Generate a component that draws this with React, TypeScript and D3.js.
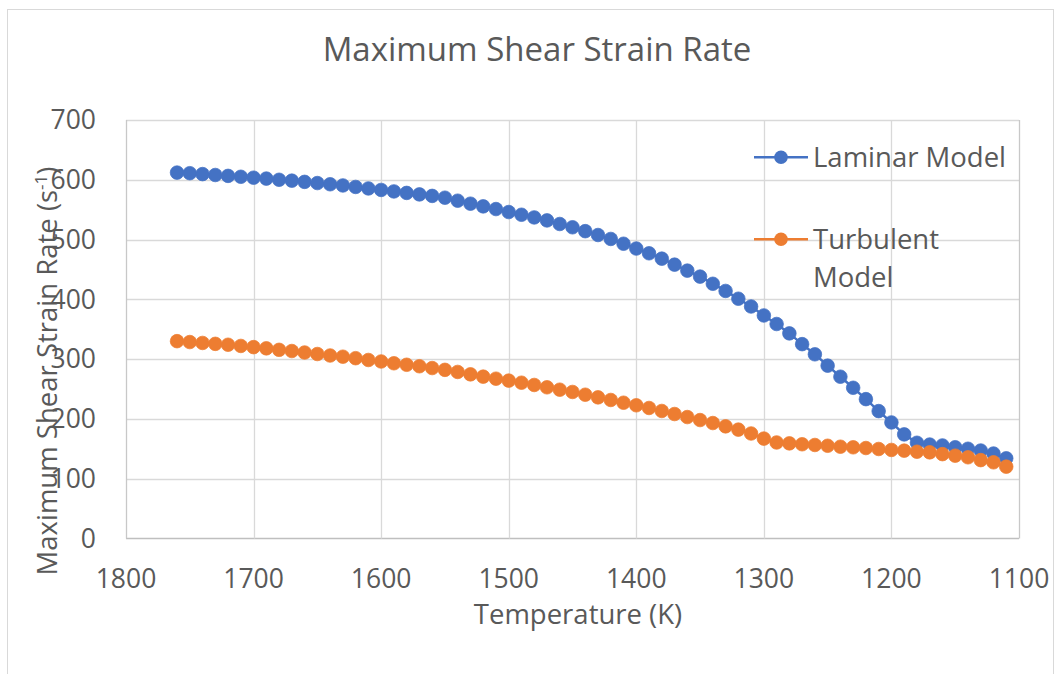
import React from "react";
import * as d3 from "d3";

const temperatures: number[] = [
  1760, 1750, 1740, 1730, 1720, 1710, 1700, 1690, 1680, 1670, 1660, 1650, 1640, 1630, 1620, 1610,
  1600, 1590, 1580, 1570, 1560, 1550, 1540, 1530, 1520, 1510, 1500, 1490, 1480, 1470, 1460, 1450,
  1440, 1430, 1420, 1410, 1400, 1390, 1380, 1370, 1360, 1350, 1340, 1330, 1320, 1310, 1300, 1290,
  1280, 1270, 1260, 1250, 1240, 1230, 1220, 1210, 1200, 1190, 1180, 1170, 1160, 1150, 1140, 1130,
  1120, 1110,
];

const laminar: number[] = [
  612, 611, 609.5, 608, 606.5, 605, 603.5, 602, 600, 598.5, 596.5, 594.5, 592.5, 590.5, 588, 585.5,
  583, 580.5, 578, 575.5, 573, 570, 565, 560, 555.5, 551, 546, 541.5, 537, 532, 526, 520.5,
  514, 507.6, 501, 493, 485, 477, 468, 458, 448, 438, 426, 414, 401, 388, 373, 358.7,
  343, 325, 308, 289, 270.5, 252, 233, 213, 194, 174, 160, 157, 155.5, 152.5, 150, 147,
  142, 134,
];

const turbulent: number[] = [
  330, 328.5, 327, 325.5, 324, 322, 320, 318, 315.5, 313.5, 311, 308.5, 306, 304, 301.5, 298.5,
  296, 293, 290.5, 288, 285, 282, 278.5, 274.5, 270.6, 267.2, 264, 260.5, 256.7, 252.8, 248.8, 245,
  240.4, 236, 231.6, 227, 222.7, 218.2, 213.2, 208.1, 203, 198, 193, 187.5, 182, 175.5, 167, 160.5,
  159, 157.5, 156.3, 155, 153.4, 152.4, 151.2, 149.6, 148, 146.8, 145, 144, 141, 138.4, 135.7, 131,
  127.3, 120,
];

const xTicks: number[] = [1800, 1700, 1600, 1500, 1400, 1300, 1200, 1100];
const yTicks: number[] = [0, 100, 200, 300, 400, 500, 600, 700];

const seriesNames: string[] = ["Laminar Model", "Turbulent Model"];
const seriesColors: string[] = ["#4472C4", "#ED7D31"];

const FONT = "'Open Sans', 'Noto Sans', sans-serif";
const TEXT = "#595959";

export default function App() {
  const W = 1062;
  const H = 674;
  const x = d3.scaleLinear().domain([1800, 1100]).range([126, 1019]);
  const y = d3.scaleLinear().domain([0, 700]).range([538.4, 120]);

  const allSeries = [laminar, turbulent];
  const line = d3
    .line<number>()
    .x((_, i) => x(temperatures[i]))
    .y((d) => y(d));

  const r = 6.8;
  const tickFs = 26.5;
  const labFs = 27.5;

  return (
    <svg
      width={W}
      height={H}
      style={{ position: "absolute", left: 0, top: 0, background: "#fff" }}
      fontFamily={FONT}
    >
      <rect x={0} y={0} width={W} height={H} fill="#fff" />
      <rect x={7.5} y={9.5} width={1046} height={700} fill="none" stroke="#d9d9d9" strokeWidth={1} />

      {/* title */}
      <text x={537} y={49} dy="0.35em" textAnchor="middle" fontSize={33} fill={TEXT}>
        Maximum Shear Strain Rate
      </text>

      {/* gridlines */}
      {yTicks.map((t) => (
        <line
          key={"gy" + t}
          x1={x(1800)}
          x2={x(1100)}
          y1={Math.round(y(t)) + 0.5}
          y2={Math.round(y(t)) + 0.5}
          stroke={t === 0 ? "#bfbfbf" : "#d9d9d9"}
          strokeWidth={1.3}
        />
      ))}
      {xTicks.map((t) => (
        <line
          key={"gx" + t}
          x1={Math.round(x(t)) + 0.5}
          x2={Math.round(x(t)) + 0.5}
          y1={y(700)}
          y2={y(0)}
          stroke={t === 1800 || t === 1100 ? "#c8c8c8" : "#d9d9d9"}
          strokeWidth={1.3}
        />
      ))}

      {/* y tick labels */}
      {yTicks.map((t) => (
        <text
          key={"ly" + t}
          x={96}
          y={y(t)}
          dy="0.35em"
          textAnchor="end"
          fontSize={tickFs}
          fill={TEXT}
        >
          {t}
        </text>
      ))}
      {/* x tick labels */}
      {xTicks.map((t) => (
        <text
          key={"lx" + t}
          x={x(t)}
          y={579}
          dy="0.35em"
          textAnchor="middle"
          fontSize={tickFs}
          fill={TEXT}
        >
          {t}
        </text>
      ))}

      {/* axis titles */}
      <text x={578} y={614} dy="0.35em" textAnchor="middle" fontSize={labFs} fill={TEXT}>
        Temperature (K)
      </text>
      <text
        transform="translate(47,371) rotate(-90)"
        textAnchor="middle"
        dy="0.35em"
        fontSize={labFs}
        fill={TEXT}
      >
        Maximum Shear Strain Rate (s
        <tspan fontSize={17} dy="-10">-1</tspan>
        <tspan dy="10">)</tspan>
      </text>

      {/* series */}
      {allSeries.map((s, si) => (
        <g key={"s" + si}>
          <path d={line(s) || ""} fill="none" stroke={seriesColors[si]} strokeWidth={2.5} />
          {s.map((v, i) => (
            <circle
              key={i}
              cx={x(temperatures[i])}
              cy={y(v)}
              r={r}
              fill={seriesColors[si]}
              stroke={seriesColors[si]}
              strokeWidth={0.75}
            />
          ))}
        </g>
      ))}

      {/* legend */}
      <g>
        <line x1={754} x2={808} y1={157.3} y2={157.3} stroke={seriesColors[0]} strokeWidth={2.5} />
        <circle cx={781} cy={157.3} r={r} fill={seriesColors[0]} />
        <text x={813} y={157.3} dy="0.35em" fontSize={labFs} fill={TEXT}>
          {seriesNames[0]}
        </text>
        <line x1={754} x2={808} y1={239.3} y2={239.3} stroke={seriesColors[1]} strokeWidth={2.5} />
        <circle cx={781} cy={239.3} r={r} fill={seriesColors[1]} />
        <text x={813} y={239.3} dy="0.35em" fontSize={labFs} fill={TEXT}>
          {seriesNames[1].split(" ")[0]}
        </text>
        <text x={813} y={277} dy="0.35em" fontSize={labFs} fill={TEXT}>
          {seriesNames[1].split(" ")[1]}
        </text>
      </g>
    </svg>
  );
}
